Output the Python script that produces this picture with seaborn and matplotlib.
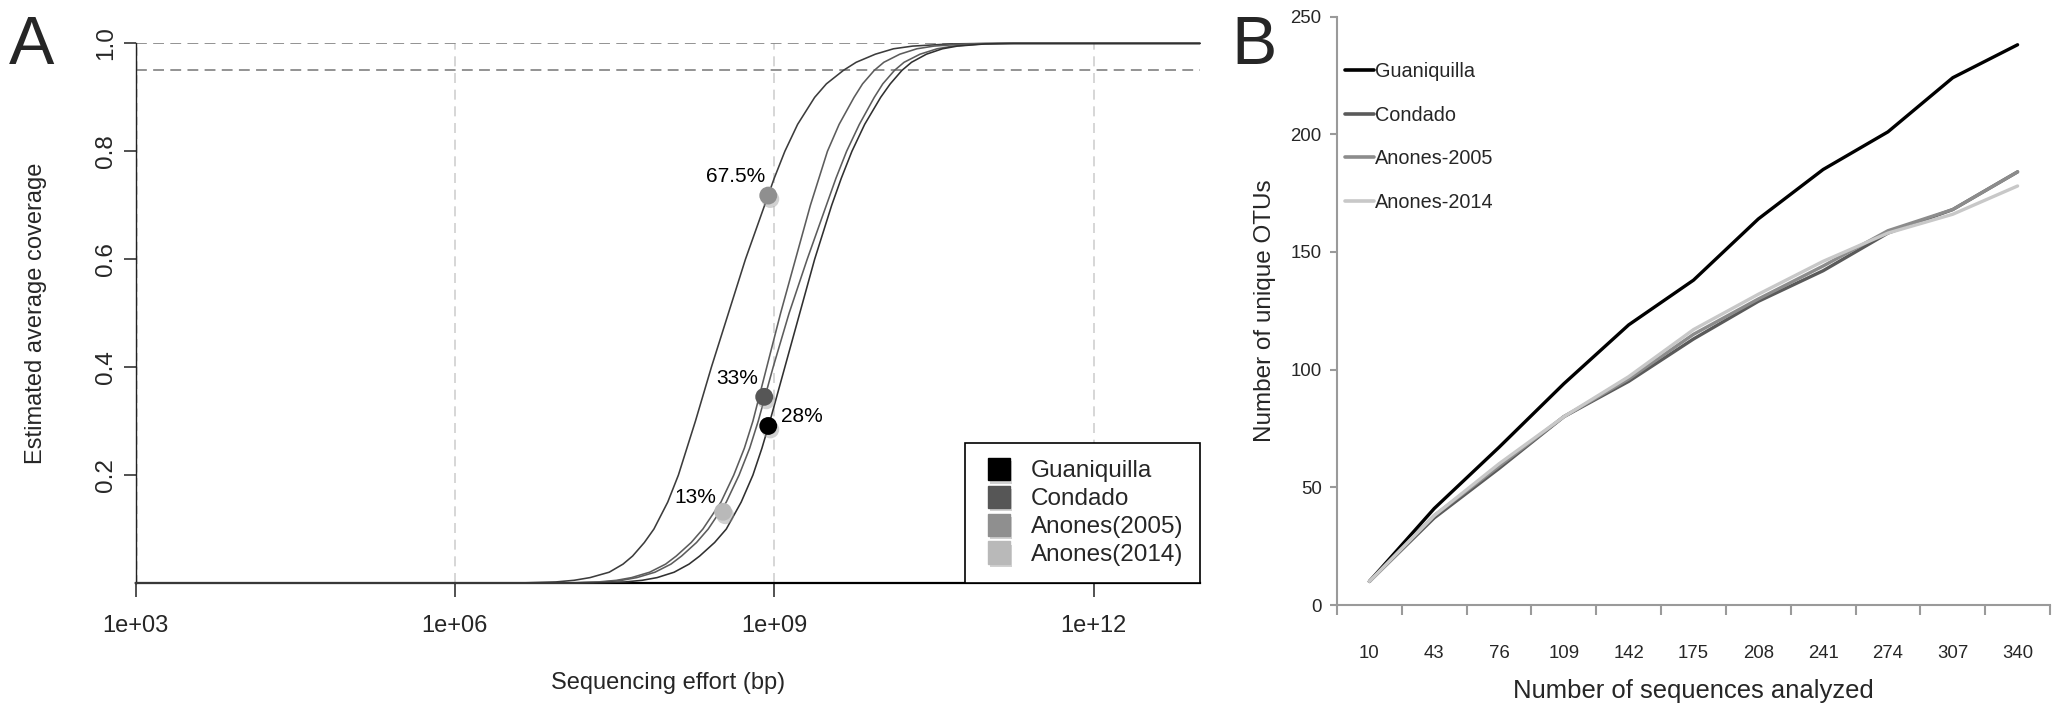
import numpy as np
import pandas as pd
import matplotlib
matplotlib.use("Agg")
import matplotlib.pyplot as plt
import matplotlib.patheffects as pe
from matplotlib.lines import Line2D
from matplotlib import font_manager
import seaborn as sns

# ---------------- Panel A data ----------------
samples_a = ["Guaniquilla", "Condado", "Anones(2005)", "Anones(2014)"]
point_colors = ["#000000", "#565656", "#8f8f8f", "#b9b9b9"]
point_log_effort = [8.944, 8.906, 8.944, 8.52]
point_coverage = [0.291, 0.345, 0.718, 0.132]
point_labels = ["28%", "33%", "67.5%", "13%"]

# coverage levels and the log10(effort, bp) at which each curve reaches them
curve_coverage = [0.0, 0.0, 0.002, 0.005, 0.01, 0.02, 0.035, 0.05, 0.075, 0.1,
                  0.15, 0.2, 0.25, 0.3, 0.4, 0.5, 0.6, 0.7, 0.75, 0.8, 0.85,
                  0.9, 0.925, 0.95, 0.965, 0.98, 0.99, 0.995, 0.999, 1.0, 1.0]
curve_left = [3.0, 6.60, 6.95, 7.12, 7.27, 7.45, 7.58, 7.67, 7.78, 7.87,
              8.00, 8.10, 8.18, 8.26, 8.41, 8.57, 8.73, 8.91, 9.00, 9.10, 9.22,
              9.38, 9.49, 9.65, 9.77, 9.95, 10.12, 10.30, 10.65, 11.0, 13.0]
curve_mid1 = [3.0, 7.05, 7.35, 7.52, 7.66, 7.83, 7.98, 8.08, 8.22, 8.33,
              8.50, 8.62, 8.72, 8.80, 8.93, 9.06, 9.20, 9.34, 9.42, 9.50, 9.61,
              9.75, 9.83, 9.94, 10.03, 10.18, 10.34, 10.50, 10.80, 11.1, 13.0]
curve_mid2 = [3.0, 7.10, 7.40, 7.57, 7.71, 7.88, 8.03, 8.13, 8.27, 8.38,
              8.55, 8.67, 8.77, 8.85, 8.99, 9.14, 9.31, 9.49, 9.58, 9.68, 9.80,
              9.94, 10.02, 10.13, 10.22, 10.37, 10.53, 10.68, 10.95, 11.2, 13.0]
curve_right = [3.0, 7.30, 7.60, 7.76, 7.90, 8.06, 8.20, 8.30, 8.44, 8.55,
               8.69, 8.80, 8.885, 8.96, 9.10, 9.24, 9.38, 9.54, 9.63, 9.73, 9.85,
               10.00, 10.09, 10.20, 10.29, 10.43, 10.58, 10.72, 10.98, 11.25, 13.0]
curve_names = ["c1", "c2", "c3", "c4"]
curve_colors = ["#3c3c3c", "#5c5c5c", "#5c5c5c", "#303030"]

# ---------------- Panel B data ----------------
seq_counts = ["10", "43", "76", "109", "142", "175", "208", "241", "274", "307", "340"]
guaniquilla = [10, 41, 67, 94, 119, 138, 164, 185, 201, 224, 238]
condado = [10, 37, 58, 80, 95, 113, 129, 142, 158, 168, 184]
anones2005 = [10, 38, 59, 80, 96, 115, 130, 144, 159, 168, 184]
anones2014 = [10, 38, 60, 80, 97, 117, 132, 146, 158, 166, 178]
series_b = ["Guaniquilla", "Condado", "Anones-2005", "Anones-2014"]
colors_b = ["#000000", "#5a5a5a", "#8c8c8c", "#c8c8c8"]

# ---------------- style ----------------
sns.set_theme(style="white")
plt.rcParams["font.family"] = ["Liberation Sans", "DejaVu Sans"]
names = {f.name for f in font_manager.fontManager.ttflist}
narrow = "Liberation Sans Narrow" if "Liberation Sans Narrow" in names else None
nscale = 1.0 if narrow else 0.84
nfam = [narrow, "Liberation Sans"] if narrow else ["Liberation Sans"]

W, H = 2063, 713
fig = plt.figure(figsize=(W / 100, H / 100), dpi=100)

def ax_rect(x0, y0, x1, y1):
    return [x0 / W, 1 - y1 / H, (x1 - x0) / W, (y1 - y0) / H]

# ======================= Panel A =======================
axA = fig.add_axes(ax_rect(135.5, 43.4, 1200, 583))
axA.set_xscale("log")

rows = []
for name, logs in zip(curve_names, [curve_left, curve_mid1, curve_mid2, curve_right]):
    for lg, cv in zip(logs, curve_coverage):
        rows.append({"curve": name, "effort": 10.0 ** lg, "coverage": cv})
df_curves = pd.DataFrame(rows)

# grid / reference lines
for v in [1e6, 1e9, 1e12]:
    axA.axvline(v, color="#cfcfcf", lw=1.2, ls=(0, (6, 4)), zorder=1)
axA.axvline(1e3, color="#555555", lw=1.0, ls=(0, (6, 4)), zorder=1)
for h in [1.0, 0.95]:
    axA.axhline(h, color="#8a8a8a", lw=1.3, ls=(0, (6, 3.5)), zorder=1)

sns.lineplot(data=df_curves, x="effort", y="coverage", hue="curve",
             palette=dict(zip(curve_names, curve_colors)), sort=False,
             estimator=None, legend=False, lw=1.15, ax=axA, zorder=3)
for ln in axA.get_lines()[-4:]:
    ln.set_clip_on(False)
    ln.set_solid_joinstyle("round")

df_pts = pd.DataFrame({"sample": samples_a,
                       "effort": [10.0 ** v for v in point_log_effort],
                       "coverage": point_coverage})
shadow = [pe.SimplePatchShadow(offset=(1.5, -2.5), shadow_rgbFace="#9a9a9a", alpha=0.45), pe.Normal()]
sns.scatterplot(data=df_pts, x="effort", y="coverage", hue="sample",
                palette=dict(zip(samples_a, point_colors)), s=165,
                edgecolor="none", legend=False, ax=axA, zorder=5)
for coll in axA.collections:
    coll.set_path_effects(shadow)

# point labels (offsets in points)
offsets = {"28%": (9, 6.5, "left"), "33%": (-4.5, 13, "right"),
           "67.5%": (-2.5, 14, "right"), "13%": (-5, 10.5, "right")}
for lab, xe, yc in zip(point_labels, point_log_effort, point_coverage):
    dx, dy, ha = offsets[lab]
    axA.annotate(lab, (10.0 ** xe, yc), xytext=(dx, dy), textcoords="offset points",
                 ha=ha, va="center", fontsize=15, color="black", zorder=6)

axA.set_xlim(1e3, 1e13)
axA.set_ylim(0, 1)
axA.set_xticks([1e3, 1e6, 1e9, 1e12])
axA.set_xticklabels(["1e+03", "1e+06", "1e+09", "1e+12"])
axA.xaxis.set_minor_locator(matplotlib.ticker.NullLocator())
axA.set_yticks([0.2, 0.4, 0.6, 0.8, 1.0])
axA.set_yticklabels(["0.2", "0.4", "0.6", "0.8", "1.0"], rotation=90, va="center")
axA.tick_params(axis="x", length=10, width=1.1, color="#222222", pad=13,
                labelsize=17, direction="out", bottom=True)
axA.tick_params(axis="y", length=9, width=1.1, color="#222222", pad=4,
                labelsize=17.5, direction="out", left=True)
for s in ["top", "right"]:
    axA.spines[s].set_visible(False)
axA.spines["bottom"].set_color("black")
axA.spines["bottom"].set_linewidth(1.6)
axA.spines["left"].set_color("#222222")
axA.spines["left"].set_linewidth(1.0)
axA.set_xlabel("Sequencing effort (bp)", fontsize=17)
axA.set_ylabel("Estimated average coverage", fontsize=17)
axA.xaxis.set_label_coords(0.5, -0.165)
axA.yaxis.set_label_coords(-0.083, 0.5)

handlesA = [Line2D([], [], marker="s", ls="", color=c, markersize=16,
                   path_effects=[pe.SimplePatchShadow(offset=(1.5, -2.5), shadow_rgbFace="#9a9a9a", alpha=0.45), pe.Normal()])
            for c in point_colors]
legA = axA.legend(handlesA, samples_a, loc="lower right", bbox_to_anchor=(1.0, 0.0),
                  borderaxespad=0, frameon=True, fancybox=False, framealpha=1,
                  edgecolor="black", fontsize=17.5, labelspacing=0.24,
                  handlelength=1.4, handletextpad=0.6, borderpad=0.7)
legA.get_frame().set_linewidth(1.2)
legA.set_zorder(10)

# ======================= Panel B =======================
axB = fig.add_axes(ax_rect(1337, 16.5, 2050, 605))
pos = list(range(len(seq_counts)))
df_b = pd.DataFrame({
    "pos": pos * 4,
    "otus": guaniquilla + condado + anones2005 + anones2014,
    "site": sum([[s] * len(seq_counts) for s in series_b], []),
})
sns.lineplot(data=df_b, x="pos", y="otus", hue="site", hue_order=series_b,
             palette=dict(zip(series_b, colors_b)), estimator=None, sort=False,
             legend=False, lw=2.4, ax=axB)
axB.set_xlim(-0.5, len(seq_counts) - 0.5)
axB.set_ylim(0, 250)
axB.set_yticks([0, 50, 100, 150, 200, 250])
axB.set_yticklabels(["0", "50", "100", "150", "200", "250"], family=nfam, fontsize=16 * nscale)
axB.set_xticks([p - 0.5 for p in pos] + [len(seq_counts) - 0.5])
axB.set_xticklabels([])
axB.set_xticks(pos, minor=True)
axB.set_xticklabels(seq_counts, minor=True, family=nfam, fontsize=16 * nscale)
axB.tick_params(axis="x", which="major", length=7, width=1.5, color="#9a9a9a", direction="out", bottom=True)
axB.tick_params(axis="x", which="minor", length=0, pad=29, bottom=True)
axB.tick_params(axis="y", length=5, width=1.5, color="#9a9a9a", direction="out", pad=6, left=True)
for s in ["top", "right"]:
    axB.spines[s].set_visible(False)
for s in ["left", "bottom"]:
    axB.spines[s].set_color("#9a9a9a")
    axB.spines[s].set_linewidth(1.5)
axB.set_xlabel("Number of sequences analyzed", family=nfam, fontsize=22 * nscale)
axB.set_ylabel("Number of unique OTUs", fontsize=17.5)
axB.xaxis.set_label_coords(0.5, -0.125)
axB.yaxis.set_label_coords(-0.085, 0.5)

handlesB = [Line2D([], [], color=c, lw=2.6) for c in colors_b]
legB = axB.legend(handlesB, series_b, loc="upper left", bbox_to_anchor=(0.011, 0.922),
                  frameon=False, fontsize=17 * nscale,
                  handlelength=1.45, handletextpad=0.08, labelspacing=1.23,
                  borderaxespad=0, borderpad=0)
for t in legB.get_texts():
    t.set_family(nfam)

# panel letters
fig.text(9 / W, 1 - 64 / H, "A", fontsize=49, ha="left", va="baseline")
fig.text(1231 / W, 1 - 64 / H, "B", fontsize=49, ha="left", va="baseline")

fig.savefig("out.png", dpi=100, facecolor="white")
